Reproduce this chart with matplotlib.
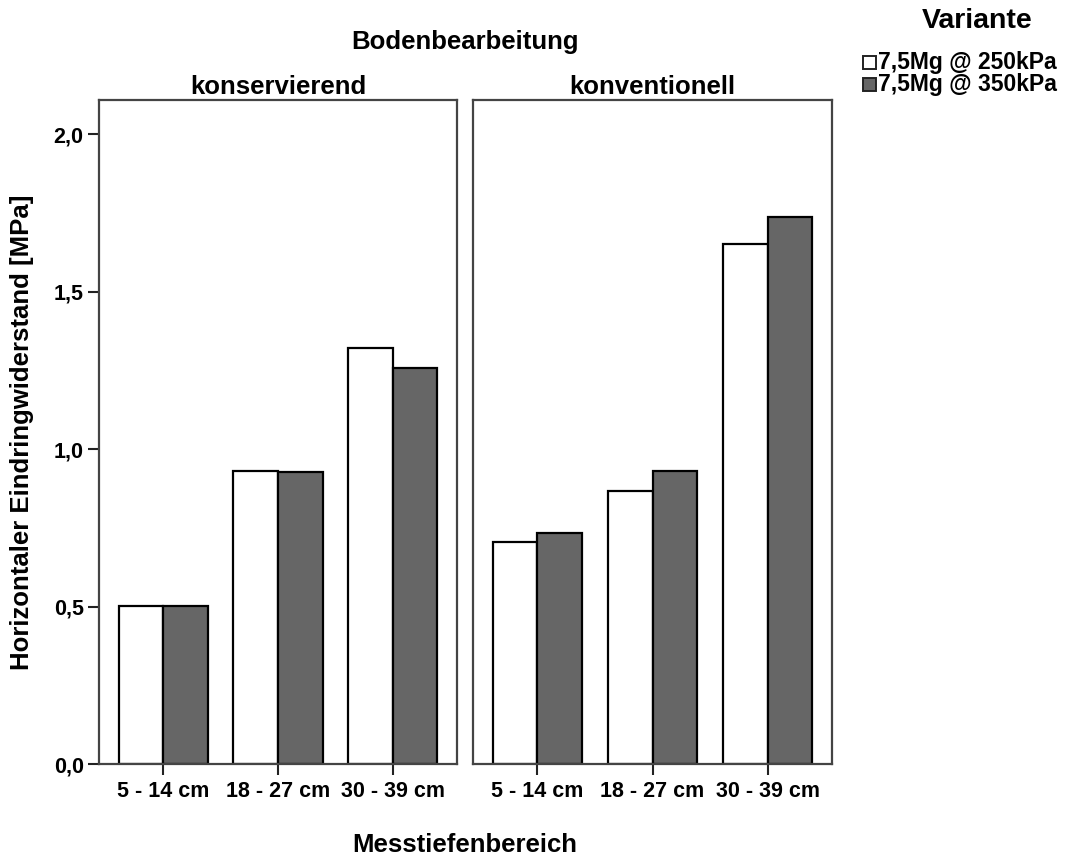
import matplotlib
matplotlib.use("Agg")
import matplotlib.pyplot as plt
import matplotlib.patches as patches
import numpy as np

# data
depths = ["5 - 14 cm", "18 - 27 cm", "30 - 39 cm"]
panels = ["konservierend", "konventionell"]
series = ["7,5Mg @ 250kPa", "7,5Mg @ 350kPa"]
kons_250 = [0.503, 0.930, 1.320]
kons_350 = [0.503, 0.926, 1.256]
konv_250 = [0.704, 0.866, 1.650]
konv_350 = [0.732, 0.929, 1.738]
yticks = [0.0, 0.5, 1.0, 1.5, 2.0]

colors = ["#ffffff", "#666666"]

plt.rcParams["font.family"] = ["Liberation Sans", "DejaVu Sans"]
plt.rcParams["font.weight"] = "bold"

fig = plt.figure(figsize=(10.67, 8.57), dpi=100)
ax1 = fig.add_axes([0.0928, 0.1085, 0.3355, 0.7748])
ax2 = fig.add_axes([0.4433, 0.1085, 0.3365, 0.7748])

data = [(kons_250, kons_350), (konv_250, konv_350)]
x = np.arange(len(depths))
w = 0.39

for ax, (a, b), name in zip([ax1, ax2], data, panels):
    ax.bar(x - w / 2, a, w, color=colors[0], edgecolor="black", linewidth=1.6, zorder=2)
    ax.bar(x + w / 2, b, w, color=colors[1], edgecolor="black", linewidth=1.6, zorder=2)
    ax.set_xlim(-0.56, 2.56)
    ax.set_ylim(0, 2.108)
    ax.set_xticks(x)
    ax.set_xticklabels(depths, fontsize=15.5, fontweight="bold")
    ax.tick_params(axis="x", length=8, width=1.5, color="#222222", pad=4)
    for s in ax.spines.values():
        s.set_color("#444444")
        s.set_linewidth(1.6)
    ax.set_title(name, fontsize=18.5, fontweight="bold", pad=4)

ax1.set_yticks(yticks)
ax1.set_yticklabels([f"{t:.1f}".replace(".", ",") for t in yticks], fontsize=15.5, fontweight="bold")
ax1.tick_params(axis="y", length=8, width=1.5, color="#222222", pad=3)
ax1.set_ylabel("Horizontaler Eindringwiderstand [MPa]", fontsize=18.5, fontweight="bold", labelpad=14)
ax2.set_yticks([])

fig.text(0.436, 0.951, "Bodenbearbeitung", ha="center", va="center", fontsize=18.5, fontweight="bold")
fig.text(0.436, 0.014, "Messtiefenbereich", ha="center", va="center", fontsize=18.5, fontweight="bold")

# legend
fig.text(0.9157, 0.975, "Variante", ha="center", va="center", fontsize=20.5, fontweight="bold")
for i, (lab, c) in enumerate(zip(series, colors)):
    yc = 0.927 - i * 0.0255
    fig.patches.append(patches.Rectangle((0.8085, yc - 0.008), 0.0125, 0.0158, transform=fig.transFigure,
                                         facecolor=c, edgecolor="#222222", linewidth=1.4))
    fig.text(0.8225, yc, lab, ha="left", va="center", fontsize=16.5, fontweight="bold")

fig.savefig("out.png", dpi=100)
